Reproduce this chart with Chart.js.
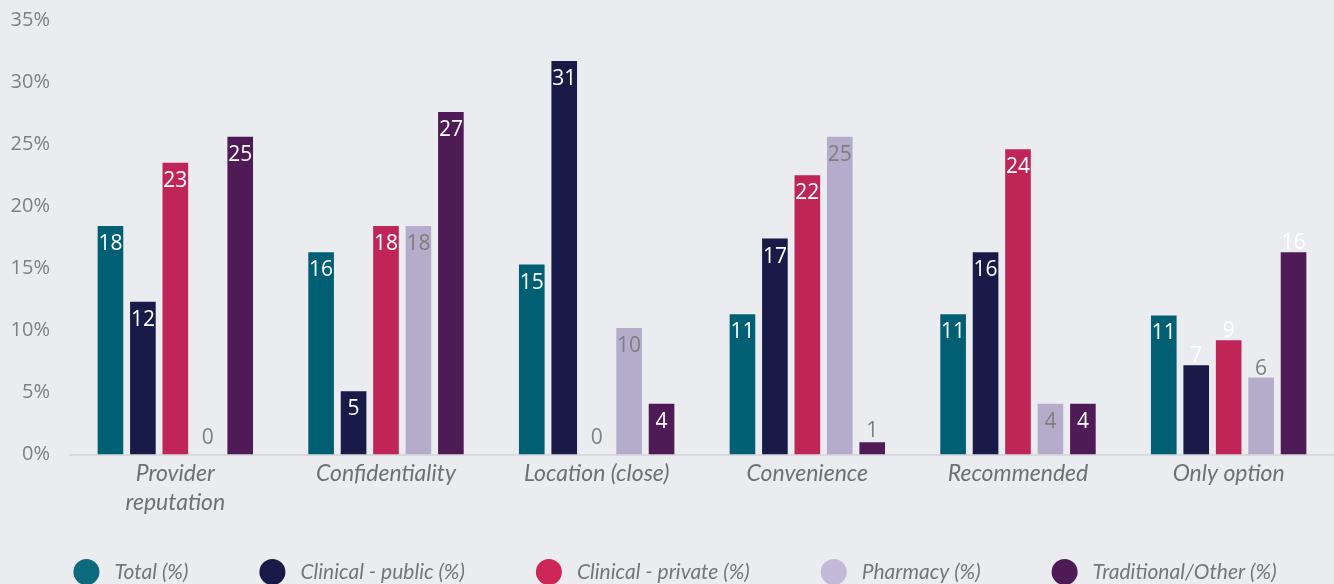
<!DOCTYPE html>
<html><head><meta charset="utf-8">
<script src="https://cdn.jsdelivr.net/npm/chart.js@4.4.1/dist/chart.umd.min.js"></script>
<style>html,body{margin:0;padding:0;background:#ebecf0;overflow:hidden}
#wrap{width:1334px;height:584px;position:relative}</style></head>
<body><div id="wrap"><canvas id="c"></canvas></div>
<script>
const categories = [['Provider', 'reputation'], 'Confidentiality', 'Location (close)', 'Convenience', 'Recommended', 'Only option'];
const seriesNames = ['Total (%)', 'Clinical - public (%)', 'Clinical - private (%)', 'Pharmacy (%)', 'Traditional/Other (%)'];
const totalValues = [18.4, 16.3, 15.3, 11.3, 11.3, 11.2];
const clinicalPublicValues = [12.3, 5.1, 31.7, 17.4, 16.3, 7.2];
const clinicalPrivateValues = [23.5, 18.4, 0, 22.5, 24.6, 9.2];
const pharmacyValues = [0, 18.4, 10.2, 25.6, 4.1, 6.2];
const traditionalValues = [25.6, 27.6, 4.1, 1.0, 4.1, 16.3];
const yTicks = [0, 5, 10, 15, 20, 25, 30, 35];

// style
const seriesColors = ['#015f74', '#181b47', '#c02557', '#b4acca', '#4f1b57'];
const legendColors = ['#0e6a7d', '#181b47', '#cc2757', '#c4bad7', '#4f1b57'];
const labelsAboveBar = [[5, 1], [5, 2], [5, 3], [5, 4]];

const seriesValues = [totalValues, clinicalPublicValues, clinicalPrivateValues, pharmacyValues, traditionalValues];

const valueLabels = {
  id: 'valueLabels',
  afterDatasetsDraw(chart) {
    const ctx = chart.ctx;
    ctx.save();
    ctx.font = '21px "Open Sans"';
    ctx.textAlign = 'center';
    ctx.textBaseline = 'middle';
    chart.data.datasets.forEach((ds, di) => {
      const meta = chart.getDatasetMeta(di);
      meta.data.forEach((bar, i) => {
        const v = ds.data[i];
        const text = String(Math.floor(v));
        const above = labelsAboveBar.some(p => p[0] === i && p[1] === di);
        let y;
        if (v < 2) y = bar.y - (v === 0 ? 17 : 11);
        else if (above) y = bar.y - 9;
        else y = bar.y + 18;
        ctx.fillStyle = (di === 3 || v < 2) ? '#7f7f7f' : '#ffffff';
        ctx.fillText(text, bar.x, y);
      });
    });
    ctx.restore();
  }
};

const customLegend = {
  id: 'customLegend',
  afterDraw(chart) {
    const ctx = chart.ctx;
    ctx.save();
    ctx.font = 'italic 21px Lato';
    const items = chart.data.datasets.map((ds, i) => ({text: ds.label, color: legendColors[i], w: ctx.measureText(ds.label).width}));
    const r = 13, textGap = 15, gap = 71;
    const total = items.reduce((s, it) => s + 2 * r + textGap + it.w, 0) + gap * (items.length - 1);
    let x = (chart.width - total) / 2 + 8;
    const cy = 572;
    items.forEach(it => {
      ctx.beginPath();
      ctx.arc(x + r, cy, r, 0, Math.PI * 2);
      ctx.fillStyle = it.color;
      ctx.fill();
      ctx.fillStyle = '#767676';
      ctx.textAlign = 'left';
      ctx.textBaseline = 'middle';
      ctx.fillText(it.text, x + 2 * r + textGap, cy);
      x += 2 * r + textGap + it.w + gap;
    });
    ctx.restore();
  }
};

new Chart(document.getElementById('c'), {
  type: 'bar',
  data: {
    labels: categories,
    datasets: seriesNames.map((name, i) => ({
      label: name,
      data: seriesValues[i],
      backgroundColor: seriesColors[i],
      categoryPercentage: 0.77,
      barPercentage: 0.79
    }))
  },
  options: {
    responsive: true,
    maintainAspectRatio: false,
    animation: false,
    layout: {padding: {top: 20, bottom: 63, left: 0, right: 0}},
    plugins: {legend: {display: false}, tooltip: {enabled: false}},
    scales: {
      x: {
        grid: {display: false, drawTicks: false},
        border: {display: true, color: '#d9dadf', width: 2},
        ticks: {color: '#707070', font: {family: 'Lato', style: 'italic', size: 23, lineHeight: 1.27}, padding: 4, maxRotation: 0, autoSkip: false}
      },
      y: {
        min: 0, max: 35,
        afterBuildTicks: s => { s.ticks = yTicks.map(v => ({value: v})); },
        afterFit: s => { s.width = 70; s.paddingTop = 0; s.paddingBottom = 0; },
        grid: {display: false, drawTicks: false},
        border: {display: false},
        ticks: {color: '#808080', font: {family: '"Open Sans"', size: 20}, padding: 20, callback: v => v + '%'}
      }
    }
  },
  plugins: [valueLabels, customLegend]
});
</script></body></html>
